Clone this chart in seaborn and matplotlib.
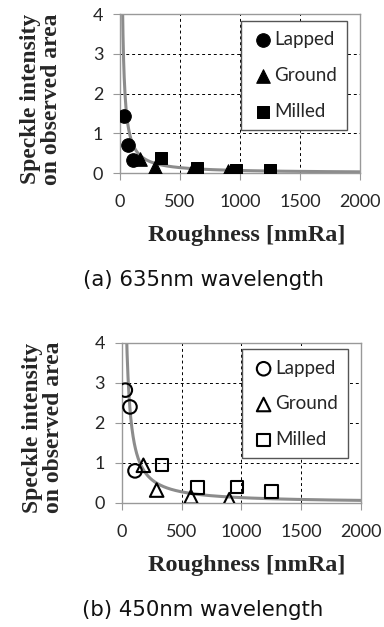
import numpy as np
import pandas as pd
import matplotlib
matplotlib.use("Agg")
import matplotlib.pyplot as plt
import seaborn as sns

# values
surfaces = ["Lapped", "Ground", "Milled"]
markers = {"Lapped": "o", "Ground": "^", "Milled": "s"}

# (a) 635nm
red_lapped_x = [33, 69, 111]
red_lapped_y = [1.44, 0.70, 0.32]
red_ground_x = [167, 292, 597, 903]
red_ground_y = [0.35, 0.15, 0.08, 0.05]
red_milled_x = [342, 639, 967, 1250]
red_milled_y = [0.38, 0.12, 0.08, 0.07]

# (b) 450nm
blue_lapped_x = [30, 69, 111]
blue_lapped_y = [2.82, 2.40, 0.80]
blue_ground_x = [181, 292, 579, 899]
blue_ground_y = [0.94, 0.32, 0.15, 0.08]
blue_milled_x = [339, 633, 966, 1253]
blue_milled_y = [0.95, 0.38, 0.40, 0.28]

# power trendline y = a * x^b
red_fit = (112, -1.08)
blue_fit = (227, -1.08)

xticks = [0, 500, 1000, 1500, 2000]
yticks = [0, 1, 2, 3, 4]


def make_df(lx, ly, gx, gy, mx, my):
    rows = []
    for name, xs, ys in [("Lapped", lx, ly), ("Ground", gx, gy), ("Milled", mx, my)]:
        for x, y in zip(xs, ys):
            rows.append({"surface": name, "roughness": x, "intensity": y})
    return pd.DataFrame(rows)


red = make_df(red_lapped_x, red_lapped_y, red_ground_x, red_ground_y, red_milled_x, red_milled_y)
blue = make_df(blue_lapped_x, blue_lapped_y, blue_ground_x, blue_ground_y, blue_milled_x, blue_milled_y)

sns.set_style("white")
plt.rcParams["font.family"] = ["Lato", "DejaVu Sans"]

fig = plt.figure(figsize=(3.84, 6.27), dpi=100)
ax1 = fig.add_axes([0.3125, 0.724, 0.625, 0.2535])
ax2 = fig.add_axes([0.317, 0.198, 0.623, 0.255])

serif = ["Liberation Serif", "DejaVu Serif"]


def draw(ax, df, fit, filled, leg_anchor, ylab_y):
    xs = np.linspace(5, 2000, 800)
    curve = pd.DataFrame({"x": xs, "y": fit[0] * xs ** fit[1]})
    sns.lineplot(data=curve, x="x", y="y", ax=ax, color="#8c8c8c", lw=2.2, zorder=2)
    for s in surfaces:
        sub = df[df.surface == s]
        size = 80 if s == "Milled" else 95
        if filled:
            sns.scatterplot(data=sub, x="roughness", y="intensity", marker=markers[s], s=size,
                            color="black", edgecolor="black", ax=ax, label=s, zorder=3)
        else:
            sns.scatterplot(data=sub, x="roughness", y="intensity", marker=markers[s], s=size,
                            facecolor="none", edgecolor="black", linewidth=1.5, ax=ax, label=s, zorder=3)
    ax.set_xlim(0, 2000)
    ax.set_ylim(0, 4)
    ax.set_xticks(xticks)
    ax.set_yticks(yticks)
    ax.grid(True, color="black", ls=(0, (3, 3)), lw=0.7)
    for sp in ax.spines.values():
        sp.set_color("#999999")
        sp.set_linewidth(1)
    ax.tick_params(axis="y", left=True, length=5, color="#999999", labelsize=13, pad=7)
    ax.tick_params(axis="x", bottom=True, length=5, color="#999999", labelsize=13, pad=10)
    ax.set_xlabel("")
    ax.set_ylabel("Speckle intensity\non observed area", family=serif, fontweight="bold",
                  fontsize=17, linespacing=1.0)
    ax.yaxis.set_label_coords(-0.24, ylab_y)
    leg = ax.legend(loc="upper right", bbox_to_anchor=leg_anchor, frameon=True, fancybox=False,
                    edgecolor="#555555", fontsize=13.5, handletextpad=0.0, labelspacing=1.0,
                    borderpad=0.55, borderaxespad=0, handlelength=1.2, framealpha=1)
    leg.get_frame().set_linewidth(1.0)


draw(ax1, red, red_fit, True, (0.946, 0.956), 0.466)
draw(ax2, blue, blue_fit, False, (0.946, 0.96), 0.47)

sub_font = ["DejaVu Sans"]
fig.text(247 / 384, 1 - 235 / 627, "Roughness [nmRa]", family=serif, fontweight="bold",
         fontsize=17.5, ha="center", va="center")
fig.text(203 / 384, 1 - 280 / 627, "(a) 635nm wavelength", fontsize=15.3, ha="center", va="center",
         family=sub_font, color="#111111")
fig.text(247 / 384, 1 - 565 / 627, "Roughness [nmRa]", family=serif, fontweight="bold",
         fontsize=17.5, ha="center", va="center")
fig.text(203 / 384, 1 - 610 / 627, "(b) 450nm wavelength", fontsize=15.3, ha="center", va="center",
         family=sub_font, color="#111111")

fig.savefig("out.png", dpi=100)
